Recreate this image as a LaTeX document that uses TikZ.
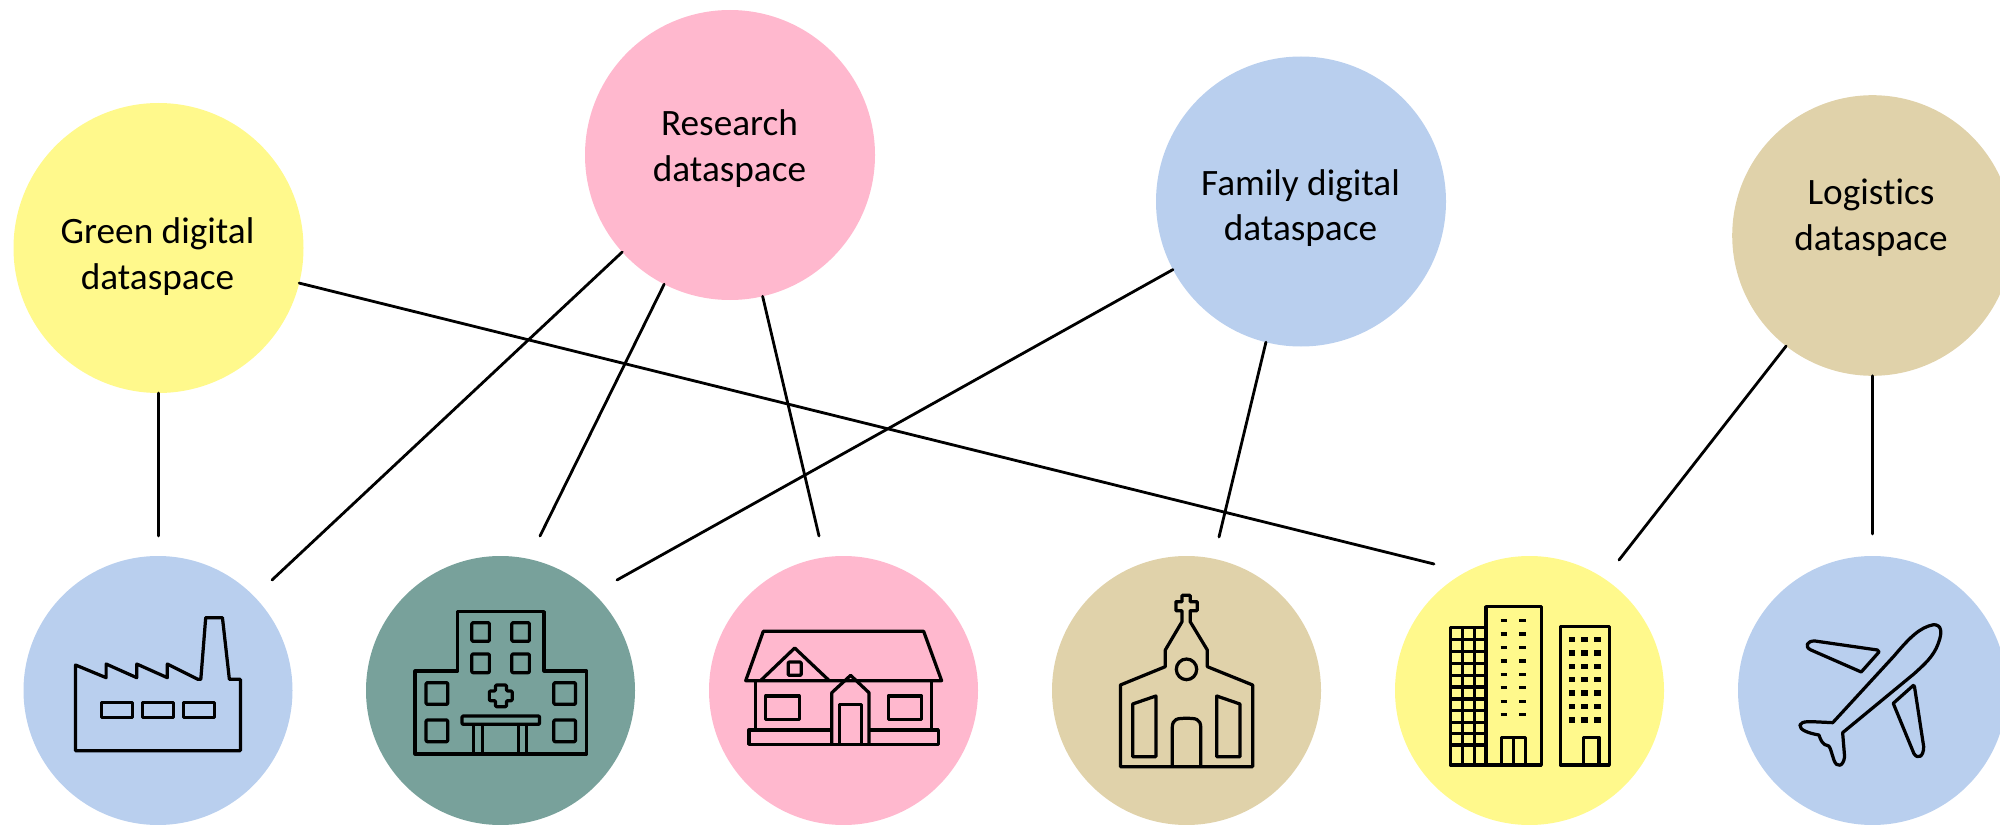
\documentclass[tikz,border=0pt]{standalone}
\usepackage{fontspec}
\setmainfont[Ligatures={NoCommon,NoRequired,NoContextual}]{Carlito}
\definecolor{cblue}{HTML}{B9CFEE}
\definecolor{cteal}{HTML}{78A19B}
\definecolor{cpink}{HTML}{FFB8CE}
\definecolor{ctan}{HTML}{E0D2AA}
\definecolor{cyel}{HTML}{FFF98C}
\tikzset{
  hub/.style={circle,draw=none,inner sep=0pt,outer sep=0pt,minimum size=290*0.05cm},
  site/.style={circle,draw=none,inner sep=0pt,outer sep=0pt,minimum size=269*0.05cm},
  lbl/.style={align=center,font=\fontsize{53}{65}\selectfont,text=black},
  link/.style={draw=black,line width=4pt,line cap=round},
  icon/.style={draw=black,line width=4.6pt,line join=round},
}
\begin{document}
\begin{tikzpicture}[x=0.05cm,y=-0.05cm]
\useasboundingbox (0,0) rectangle (2000,825);
% top circles
\node[hub,fill=cyel] (green) at (158.5,248) {};
\node[hub,fill=cpink] (research) at (730,155) {};
\node[hub,fill=cblue] (family) at (1301,201.5) {};
\node[hub,fill=ctan,minimum size=280.6*0.05cm] (logistics) at (1872.5,235.5) {};
% bottom circles
\node[site,fill=cblue] (factory) at (158,690.5) {};
\node[site,fill=cteal] (hospital) at (500.5,690.5) {};
\node[site,fill=cpink] (house) at (843.5,690.5) {};
\node[site,fill=ctan] (church) at (1186.5,690.5) {};
\node[site,fill=cyel] (city) at (1529.5,690.5) {};
\node[site,fill=cblue] (plane) at (1872.5,690.5) {};
% labels
\node[lbl] (tgreen) at (157.5,256.5) {Green digital\\dataspace};
\node[lbl] (tresearch) at (729.5,148.5) {Research\\dataspace};
\node[lbl] (tfamily) at (1300.5,208) {Family digital\\dataspace};
\node[lbl] (tlogistics) at (1871,218) {Logistics\\dataspace};
% free ends
\coordinate (e1) at (158.5,536);
\coordinate (e2) at (272,580);
\coordinate (e3) at (540,536);
\coordinate (e4) at (819,536);
\coordinate (e5) at (617,580);
\coordinate (e6) at (1219,537);
\coordinate (e7) at (1434,564);
\coordinate (e8) at (1619,560);
\coordinate (e9) at (1872.5,534);
\draw[link] (green.south) -- (e1);
\draw[link] (research.222) -- (e2);
\draw[link] (research.243.2) -- (e3);
\draw[link] (research.283.2) -- (e4);
\draw[link] (family.208.2) -- (e5);
\draw[link] (family.256.2) -- (e6);
\draw[link] (green.-14) -- (e7);
\draw[link] (logistics.232.1) -- (e8);
\draw[link] (logistics.south) -- (e9);
% icons 1 and 2
\begin{scope}[shift={(20,550)},x=0.05cm/2.45,y=-0.05cm/3]
\draw[icon] (136,345)--(211,383)--(211,342)--(286,383)--(286,342)--(361,383)--(361,342)--(436,388)--(443,388)--(455,203)--(496,203)--(513,388)--(540,388)--(540,602)--(136,602)--cycle;
\foreach \a in {200,300,400} \draw[icon] (\a,457) rectangle (\a+76,503);
\draw[icon] (968,363)--(1072,363)--(1072,185)--(1284,185)--(1284,363)--(1388,363)--(1388,612)--(968,612)--cycle;
\foreach \a/\b in {1107/218,1205/218,1107/312,1205/312} \draw[icon,rounded corners=1.5pt] (\a,\b) rectangle (\a+43,\b+56);
\foreach \a/\b in {995/398,1308/398,995/510,1308/510} \draw[icon,rounded corners=1.5pt] (\a,\b) rectangle (\a+53,\b+65);
\draw[icon,rounded corners=1.5pt] (1165,405)--(1192,405)--(1192,423)--(1206,423)--(1206,452)--(1192,452)--(1192,470)--(1165,470)--(1165,452)--(1150,452)--(1150,423)--(1165,423)--cycle;
\draw[icon,rounded corners=1.5pt] (1083,498) rectangle (1273,523);
\foreach \a in {1112,1134,1222,1241} \draw[icon] (\a,523)--(\a,612);
\end{scope}
% icons 3 and 4
\begin{scope}[shift={(700,550)},x=0.05cm/2.45,y=-0.05cm/3]
\draw[icon] (155,244)--(548,244)--(592,392)--(112,392)--cycle;
\draw[icon] (150,390)--(232,294)--(315,390);
\draw[icon,rounded corners=1.5pt] (216,336) rectangle (248,376);
\draw[icon] (136,392)--(136,540);
\draw[icon] (567,392)--(567,540);
\draw[icon] (322,540)--(120,540)--(120,583)--(584,583)--(584,540)--(415,540);
\draw[icon] (323,583)--(323,428)--(369,376)--(414,428)--(414,583);
\draw[icon] (342,583)--(342,463)--(396,463)--(396,583);
\draw[icon] (161,438) rectangle (243,508);
\draw[icon] (461,438) rectangle (543,508);
\draw[icon] (1030,405)--(1140,350)--(1140,300)--(1181,215)--(1181,182)--(1166,182)--(1166,155)--(1181,155)--(1181,136)--(1201,136)--(1201,155)--(1218,155)--(1218,182)--(1201,182)--(1201,215)--(1243,300)--(1243,350)--(1354,405)--(1354,650)--(1030,650)--cycle;
\draw[icon] (1192,358) ellipse [x radius=25,y radius=31];
\draw[icon] (1157,650)--(1157,535) .. controls (1157,505) and (1170,505) .. (1192,505) .. controls (1214,505) and (1227,505) .. (1227,535)--(1227,650);
\draw[icon] (1060,462)--(1117,438)--(1117,620)--(1060,620)--cycle;
\draw[icon] (1266,438)--(1323,462)--(1323,620)--(1266,620)--cycle;
\end{scope}
% icons 5 and 6
\begin{scope}[shift={(1380,550)},x=0.05cm/2.529,y=-0.05cm/3]
\draw[icon] (178,232) rectangle (268,645);
\foreach \a in {209,238} \draw[icon] (\a,232)--(\a,645);
\foreach \b in {268,305,340,376,411,447,482,517,550,585} \draw[icon] (178,\b)--(268,\b);
\draw[icon] (268,170) rectangle (408,645);
\foreach \b in {212,252,293,333,373,413,454,494} {\draw[icon] (305,\b)--(322,\b); \draw[icon] (352,\b)--(370,\b);}
\draw[icon] (307,645)--(307,562)--(367,562)--(367,645);
\draw[icon] (337,562)--(337,645);
\draw[icon] (456,229) rectangle (580,645);
\foreach \b in {269,309,349,389,429,470,510} \foreach \a in {485,517,550} \fill (\a-8,\b-8) rectangle (\a+8,\b+8);
\draw[icon] (514,645)--(514,562)--(554,562)--(554,645);
\draw[icon] (1145,518)--(1300,318) .. controls (1340,262) and (1365,232) .. (1400,224) .. controls (1420,224) and (1423,245) .. (1412,280) .. controls (1400,320) and (1375,345) .. (1350,372)--(1170,548)--(1175,620) .. controls (1172,650) and (1155,655) .. (1148,630) .. controls (1142,610) and (1140,595) .. (1135,588) .. controls (1118,585) and (1115,570) .. (1110,555) .. controls (1085,550) and (1060,540) .. (1062,525) .. controls (1066,512) and (1090,515) .. (1110,516)--cycle;
\draw[icon] (1100,273)--(1258,300)--(1262,306)--(1217,366)--(1090,300) .. controls (1072,290) and (1080,272) .. (1100,273)--cycle;
\draw[icon] (1348,407)--(1298,460)--(1350,610) .. controls (1360,630) and (1375,620) .. (1375,590)--(1352,412) .. controls (1351,405) and (1349,405) .. (1348,407)--cycle;
\end{scope}
\end{tikzpicture}
\end{document}
